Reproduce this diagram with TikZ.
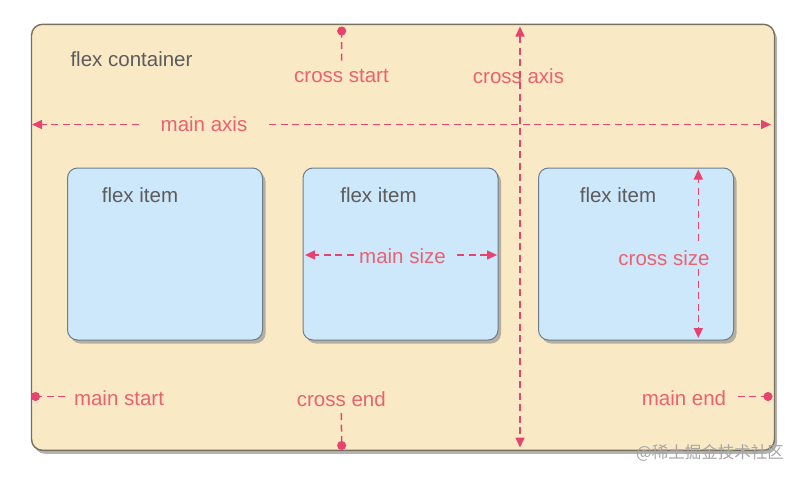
\documentclass[tikz,border=0pt]{standalone}
\usepackage{xcolor}
\usepackage{fontspec}
\setmainfont{Liberation Sans}
\newfontfamily\cjkfont{Noto Sans CJK SC}
\usepackage{tikz}
\usetikzlibrary{arrows.meta,positioning,shadows}

\definecolor{boxfill}{RGB}{249,234,197}
\definecolor{boxline}{RGB}{118,112,92}
\definecolor{itemfill}{RGB}{205,231,251}
\definecolor{itemline}{RGB}{108,126,142}
\definecolor{axisred}{RGB}{232,66,110}
\definecolor{textred}{RGB}{234,98,112}
\definecolor{textgray}{RGB}{92,92,92}

\begin{document}
\begin{tikzpicture}[
    x=1pt, y=-1pt,
    node distance=39.5pt,
    container/.style={rectangle, draw=boxline, fill=boxfill, line width=1.4pt, rounded corners=11pt, minimum width=743pt, minimum height=426pt, inner sep=0pt, drop shadow={shadow xshift=2.5pt, shadow yshift=-3.5pt, opacity=0.6}},
    item/.style={rectangle, draw=itemline, fill=itemfill, line width=1pt, rounded corners=10pt, minimum width=195pt, minimum height=172pt, inner sep=0pt, drop shadow={shadow xshift=3pt, shadow yshift=-3.5pt, opacity=0.55}},
    title/.style={text=textgray, font=\fontsize{20.5}{24}\selectfont},
    redlbl/.style={text=textred, font=\fontsize{20.5}{24}\selectfont},
    axis/.style={draw=axisred, line width=1.5pt, dash pattern=on 7pt off 4.5pt},
    tip/.style={-{Triangle[length=10pt, width=9pt]}},
    dot/.style={-{Circle[length=9pt]}},
]
    \useasboundingbox (0,0) rectangle (802,479);

    % container and items
    \node[container] (flexbox) at (403,237.3) {};
    \node[item] (item1) at (165,254) {};
    \node[item, right=of item1] (item2) {};
    \node[item, right=of item2] (item3) {};

    \node[title] (boxtitle) at (131.5,59) {flex container};
    \node[title] (title1) at (140,195) {flex item};
    \node[title] (title2) at (378.5,195) {flex item};
    \node[title] (title3) at (618,195) {flex item};

    % main axis
    \coordinate (ma-l) at (32,124.5);
    \coordinate (ma-r) at (771,124.5);
    \node[redlbl, inner xsep=22pt] (mainaxis) at (204,124.5) {main axis};
    \draw[axis, tip] (mainaxis.west) -- (ma-l);
    \draw[axis, tip] (mainaxis.east) -- (ma-r);

    % cross axis
    \coordinate (ca-t) at (520,26.5);
    \coordinate (ca-b) at (520,447.5);
    \node[redlbl] (crossaxis) at (518.5,76) {cross axis};
    \draw[axis, {Triangle[length=10pt, width=9pt]}-{Triangle[length=10pt, width=9pt]}] (ca-t) -- (ca-b);

    % cross start / cross end
    \coordinate (cs-dot) at (341.7,26.5);
    \node[redlbl] (crossstart) at (341.5,76) {cross start};
    \draw[axis, dot, shorten <=5pt] (crossstart.north) -- (cs-dot);

    \coordinate (ce-dot) at (341.7,450);
    \node[redlbl] (crossend) at (341.3,399) {cross end};
    \draw[axis, dot, shorten <=3pt] (crossend.south) -- (ce-dot);

    % main start / main end
    \coordinate (ms-dot) at (31,396.5);
    \node[redlbl] (mainstart) at (119,398.5) {main start};
    \draw[axis, dot, shorten <=5pt] (mainstart.west |- ms-dot) -- (ms-dot);

    \coordinate (me-dot) at (772.5,396.5);
    \node[redlbl] (mainend) at (684,398.5) {main end};
    \draw[axis, dot, shorten <=8pt] (mainend.east |- me-dot) -- (me-dot);

    % main size
    \coordinate (msz-l) at (305,255);
    \coordinate (msz-r) at (497,255);
    \node[redlbl] (mainsize) at (402.5,256) {main size};
    \draw[axis, tip, shorten <=2pt] (mainsize.west |- msz-l) -- (msz-l);
    \draw[axis, tip, shorten <=8pt] (mainsize.east |- msz-r) -- (msz-r);

    % cross size
    \coordinate (csz-t) at (698.3,169.5);
    \coordinate (csz-b) at (698.3,338);
    \node[redlbl] (crosssize) at (664,258) {cross size};
    \draw[axis, tip, shorten <=6pt] (crosssize.north -| csz-t) -- (csz-t);
    \draw[axis, tip] (crosssize.south -| csz-b) -- (csz-b);

    \node[text=black!35, font=\cjkfont\fontsize{16.5}{18}\selectfont] (mark) at (710,453) {@稀土掘金技术社区};
\end{tikzpicture}
\end{document}
